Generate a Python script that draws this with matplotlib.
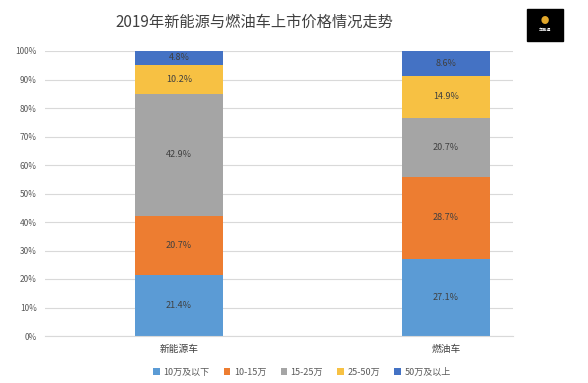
import matplotlib.pyplot as plt
from matplotlib.patches import Rectangle

plt.rcParams['font.family'] = ['Noto Sans CJK SC', 'DejaVu Sans']

categories = ['新能源车', '燃油车']
series = ['10万及以下', '10-15万', '15-25万', '25-50万', '50万及以上']
values = {
    '10万及以下': [21.4, 27.1],
    '10-15万': [20.7, 28.7],
    '15-25万': [42.9, 20.7],
    '25-50万': [10.2, 14.9],
    '50万及以上': [4.8, 8.6],
}
colors = ['#5B9BD5', '#ED7D31', '#A5A5A5', '#F7C143', '#4472C4']

fig = plt.figure(figsize=(5.88, 3.83), dpi=100)
ax = fig.add_axes([45 / 588, 1 - 336 / 383, 468 / 588, 285 / 383])

x = range(len(categories))
bottom = [0, 0]
for name, c in zip(series, colors):
    v = values[name]
    ax.bar(x, v, 0.33, bottom=bottom, color=c, label=name, zorder=2)
    for i in x:
        ax.text(i, bottom[i] + v[i] / 2, f'{v[i]}%', ha='center', va='center',
                fontsize=6.5, color='#404040', zorder=3)
    bottom = [b + vv for b, vv in zip(bottom, v)]

ax.set_xlim(-0.502, 1.251)
ax.set_ylim(0, 100)
ax.set_yticks(range(0, 101, 10))
ax.set_yticklabels([f'{t}%' for t in range(0, 101, 10)], fontsize=6, color='#595959')
ax.set_xticks(list(x))
ax.set_xticklabels(categories, fontsize=7, color='#404040')
ax.grid(axis='y', color='#D9D9D9', linewidth=0.8, zorder=0)
ax.tick_params(length=0, pad=6)
for s in ax.spines.values():
    s.set_visible(False)
ax.spines['bottom'].set_visible(True)
ax.spines['bottom'].set_color('#D9D9D9')

fig.text(254 / 588, 1 - 22 / 383, '2019年新能源与燃油车上市价格情况走势', ha='center', va='center',
         fontsize=11, color='#404040', fontweight='medium')

fig.legend(loc='center', bbox_to_anchor=(302 / 588, 1 - 372 / 383), ncol=5, frameon=False,
           fontsize=6.5, handlelength=0.7, handleheight=0.7, columnspacing=1.6,
           handletextpad=0.4, labelcolor='#595959')

# logo box
fig.patches.append(Rectangle((527 / 588, 1 - 41 / 383), 36 / 588, 32 / 383,
                             transform=fig.transFigure, color='black'))
fig.text(545 / 588, 1 - 20 / 383, '●', ha='center', va='center', fontsize=6, color='#E3A82B')
fig.text(545 / 588, 1 - 30 / 383, '车已通', ha='center', va='center', fontsize=3, color='white')

fig.savefig('out.png', dpi=100, facecolor='white')
